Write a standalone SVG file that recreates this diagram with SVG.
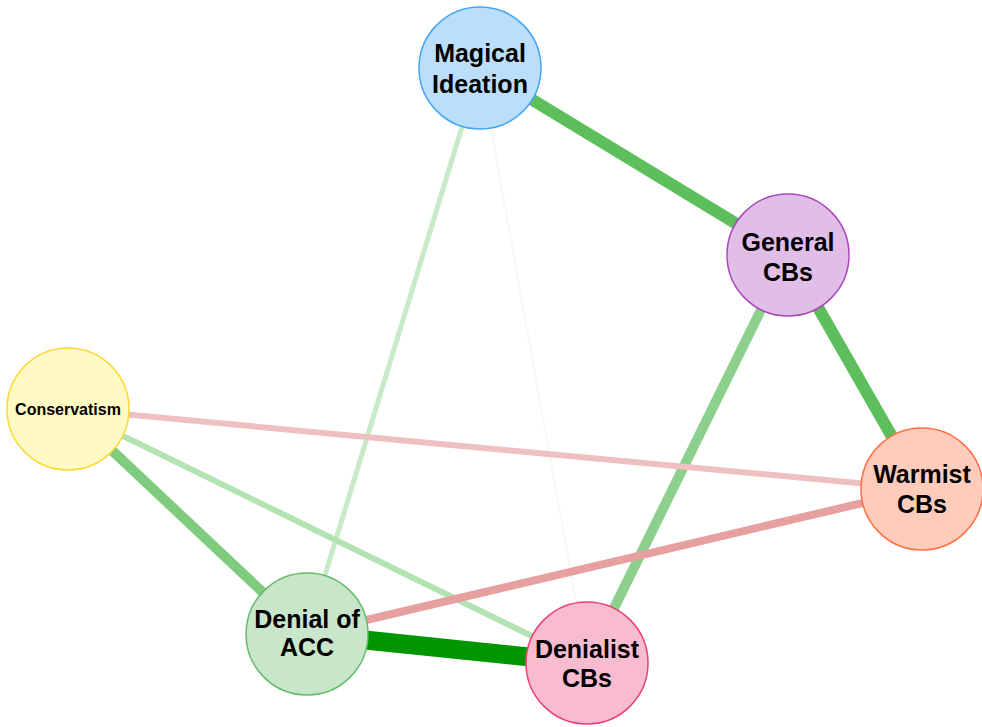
<svg xmlns="http://www.w3.org/2000/svg" width="982" height="727" viewBox="0 0 982 727">
<style>
.e{fill:none;stroke-linecap:butt}
.n circle{stroke-width:1.5}
.n text{font-family:"Liberation Sans",Arial,sans-serif;font-weight:bold;font-size:25px;fill:#000;text-anchor:middle}
</style>
<rect width="982" height="727" fill="#fff"/>
<g id="connectors">
<line class="e" x1="480" y1="68" x2="788" y2="255" stroke="#5cbf5c" stroke-width="12"/>
<line class="e" x1="788" y1="255" x2="922" y2="489" stroke="#5cbf5c" stroke-width="12"/>
<line class="e" x1="788" y1="255" x2="587" y2="663" stroke="#8dd08d" stroke-width="10"/>
<line class="e" x1="480" y1="68" x2="307" y2="634" stroke="#c9eac9" stroke-width="5"/>
<line class="e" x1="480" y1="68" x2="587" y2="663" stroke="#f1f9f1" stroke-width="2"/>
<line class="e" x1="68" y1="409" x2="922" y2="489" stroke="#efc0c0" stroke-width="6"/>
<line class="e" x1="68" y1="409" x2="307" y2="634" stroke="#7fcc7f" stroke-width="10"/>
<line class="e" x1="68" y1="409" x2="587" y2="663" stroke="#b3e2b3" stroke-width="6"/>
<line class="e" x1="307" y1="634" x2="922" y2="489" stroke="#e6a0a0" stroke-width="8"/>
<line class="e" x1="307" y1="634" x2="587" y2="663" stroke="#009600" stroke-width="19"/>
</g>
<g id="magical-ideation" class="n">
<circle cx="480" cy="68" r="61" fill="#bbdefb" stroke="#42a5f5"/>
<text x="480" y="62">Magical</text>
<text x="480" y="93">Ideation</text>
</g>
<g id="general-cbs" class="n">
<circle cx="788" cy="255" r="61" fill="#e1bee7" stroke="#ab47bc"/>
<text x="788" y="251">General</text>
<text x="788" y="281">CBs</text>
</g>
<g id="conservatism" class="n">
<circle cx="68" cy="409" r="61" fill="#fff9c4" stroke="#fdd835"/>
<text x="68" y="415" style="font-size:16px">Conservatism</text>
</g>
<g id="warmist-cbs" class="n">
<circle cx="922" cy="489" r="61" fill="#ffccbc" stroke="#ff7043"/>
<text x="922" y="483">Warmist</text>
<text x="922" y="513">CBs</text>
</g>
<g id="denial-of-acc" class="n">
<circle cx="307" cy="634" r="61" fill="#c8e6c9" stroke="#66bb6a"/>
<text x="307" y="628">Denial of</text>
<text x="307" y="656">ACC</text>
</g>
<g id="denialist-cbs" class="n">
<circle cx="587" cy="663" r="61" fill="#f8bbd0" stroke="#ec407a"/>
<text x="587" y="658">Denialist</text>
<text x="587" y="687">CBs</text>
</g>
</svg>
